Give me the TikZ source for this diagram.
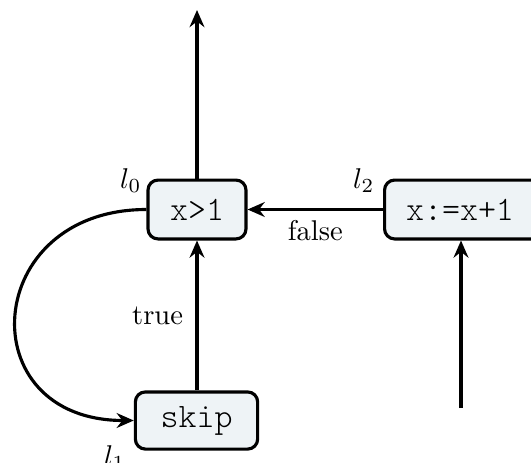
\documentclass[tikz,border=0pt]{standalone}
\usepackage{fontspec}
\usetikzlibrary{arrows.meta}
\IfFontExistsTF{Latin Modern Mono Light}
  {\newfontfamily\codefont{Latin Modern Mono Light}}
  {\newcommand\codefont{\ttfamily}}
\definecolor{boxfill}{RGB}{238,243,246}
\tikzset{
  stmt/.style={draw, line width=1.1pt, rounded corners=3.5pt, fill=boxfill,
    inner sep=0pt, font=\fontsize{12}{14}\codefont},
  flow/.style={line width=1.1pt, -{Stealth[length=6pt,width=5.2pt,inset=2pt]}},
  lbl/.style={inner sep=0pt},
}
\begin{document}
\begin{tikzpicture}[x=0.35pt,y=-0.35pt]
  \useasboundingbox (0,0) rectangle (531,462);
  % statements
  \node[stmt, minimum width=34.3pt, minimum height=20.6pt] (g) at (197,209.5) {x>1};
  \node[stmt, anchor=west, minimum height=20.6pt, inner xsep=7.5pt,
        text width=44pt, align=left] (a) at (383,209.5) {x:=x+1};
  \node[stmt, minimum width=42.8pt, minimum height=20pt] (s) at (196.5,420.5) {skip};
  % location labels
  \node[lbl, anchor=south east] (l0) at (142,193) {$l_0$};
  \node[lbl, anchor=north east] (l1) at (126,445) {$l_1$};
  \node[lbl, anchor=south east] (l2) at (375,193) {$l_2$};
  % free ends
  \coordinate (top) at (197,10);
  \coordinate (in) at (461,408);
  % connectors
  \draw[flow] (g.north) -- (top);
  \draw[flow] (a.west) -- node[below=0pt] {false} (g.east);
  \draw[flow] (s.north -| g) -- node[left=1pt] {true} (g.south);
  \draw[flow] (g.west) to[out=180,in=180,looseness=2] (s.west);
  \draw[flow] (in) -- (in |- a.south);
\end{tikzpicture}
\end{document}
